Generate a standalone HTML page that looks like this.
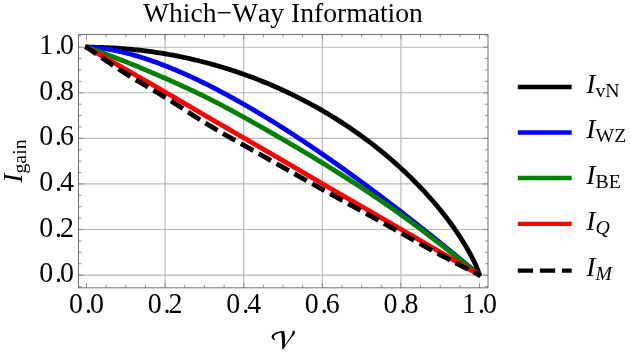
<!DOCTYPE html>
<html><head><meta charset="utf-8"><title>Which-Way Information</title>
<style>
html,body{margin:0;padding:0;background:#fff;}
body{width:630px;height:358px;overflow:hidden;position:relative;font-family:"Liberation Serif",serif;}
svg text{font-family:"Liberation Serif",serif;fill:#000;}
</style></head><body>
<svg width="630" height="358" viewBox="0 0 630 358" style="position:absolute;left:0;top:0;will-change:transform">
<rect x="0" y="0" width="630" height="358" fill="#fff"/>
<path d="M78.5,275.10 H488.0 M165.10,34.5 V287.8 M78.5,229.52 H488.0 M243.70,34.5 V287.8 M78.5,183.94 H488.0 M322.30,34.5 V287.8 M78.5,138.36 H488.0 M400.90,34.5 V287.8 M78.5,92.78 H488.0 M78.5,47.20 H488.0" stroke="#b8b8b8" stroke-width="1.15" fill="none"/>
<clipPath id="c"><rect x="78.5" y="34.5" width="409.5" height="253.3"/></clipPath>
<g clip-path="url(#c)" fill="none" stroke-linejoin="round">
<path d="M85.20,47.20 L86.50,47.20 L88.47,47.20 L90.43,47.22 L92.39,47.24 L94.36,47.27 L96.33,47.30 L98.29,47.35 L100.25,47.40 L102.22,47.46 L104.19,47.53 L106.15,47.61 L108.11,47.70 L110.08,47.79 L112.05,47.90 L114.01,48.01 L115.97,48.13 L117.94,48.25 L119.91,48.39 L121.87,48.53 L123.84,48.69 L125.80,48.85 L127.77,49.02 L129.73,49.19 L131.69,49.38 L133.66,49.57 L135.62,49.78 L137.59,49.99 L139.56,50.21 L141.52,50.43 L143.49,50.67 L145.45,50.91 L147.41,51.17 L149.38,51.43 L151.34,51.70 L153.31,51.97 L155.28,52.26 L157.24,52.56 L159.20,52.86 L161.17,53.17 L163.13,53.49 L165.10,53.82 L167.06,54.16 L169.03,54.50 L171.00,54.86 L172.96,55.22 L174.93,55.59 L176.89,55.97 L178.86,56.36 L180.82,56.76 L182.78,57.17 L184.75,57.58 L186.72,58.01 L188.68,58.44 L190.65,58.88 L192.61,59.33 L194.57,59.79 L196.54,60.26 L198.50,60.74 L200.47,61.23 L202.44,61.72 L204.40,62.23 L206.37,62.74 L208.33,63.26 L210.30,63.79 L212.26,64.33 L214.23,64.88 L216.19,65.44 L218.16,66.01 L220.12,66.59 L222.09,67.18 L224.05,67.77 L226.01,68.38 L227.98,68.99 L229.94,69.62 L231.91,70.25 L233.88,70.89 L235.84,71.55 L237.81,72.21 L239.77,72.88 L241.74,73.56 L243.70,74.25 L245.67,74.96 L247.63,75.67 L249.60,76.39 L251.56,77.12 L253.53,77.86 L255.49,78.61 L257.46,79.37 L259.42,80.14 L261.38,80.92 L263.35,81.72 L265.31,82.52 L267.28,83.33 L269.25,84.15 L271.21,84.99 L273.18,85.83 L275.14,86.68 L277.11,87.55 L279.07,88.43 L281.03,89.31 L283.00,90.21 L284.97,91.12 L286.93,92.04 L288.89,92.97 L290.86,93.91 L292.83,94.86 L294.79,95.83 L296.75,96.80 L298.72,97.79 L300.69,98.79 L302.65,99.80 L304.62,100.82 L306.58,101.86 L308.55,102.90 L310.51,103.96 L312.48,105.03 L314.44,106.12 L316.40,107.21 L318.37,108.32 L320.33,109.44 L322.30,110.57 L324.26,111.72 L326.23,112.88 L328.19,114.05 L330.16,115.23 L332.12,116.43 L334.09,117.65 L336.06,118.87 L338.02,120.11 L339.99,121.36 L341.95,122.63 L343.92,123.91 L345.88,125.21 L347.85,126.52 L349.81,127.85 L351.78,129.19 L353.74,130.54 L355.71,131.91 L357.67,133.30 L359.64,134.70 L361.60,136.12 L363.56,137.55 L365.53,139.00 L367.50,140.47 L369.46,141.95 L371.43,143.45 L373.39,144.97 L375.36,146.51 L377.32,148.06 L379.29,149.63 L381.25,151.22 L383.21,152.83 L385.18,154.46 L387.14,156.11 L389.11,157.77 L391.07,159.46 L393.04,161.17 L395.00,162.90 L396.97,164.65 L398.94,166.42 L400.90,168.22 L402.87,170.03 L404.83,171.87 L406.80,173.74 L408.76,175.63 L410.73,177.54 L412.69,179.48 L414.65,181.45 L416.62,183.44 L418.58,185.47 L420.55,187.52 L422.51,189.60 L424.48,191.71 L426.44,193.85 L428.41,196.02 L430.38,198.23 L432.34,200.48 L434.31,202.76 L436.27,205.07 L438.24,207.43 L440.20,209.83 L442.17,212.27 L444.13,214.76 L446.10,217.30 L448.06,219.88 L450.03,222.52 L451.99,225.22 L453.96,227.98 L455.92,230.80 L457.89,233.69 L459.85,236.66 L461.82,239.72 L463.78,242.87 L465.75,246.12 L467.71,249.49 L469.68,253.01 L471.64,256.69 L473.61,260.58 L475.57,264.75 L477.54,269.35 L479.50,275.10 L479.92,276.33" stroke="#000" stroke-width="4.8"/>
<path d="M85.20,47.18 L86.50,47.20 L88.47,47.23 L90.43,47.30 L92.39,47.40 L94.36,47.54 L96.33,47.70 L98.29,47.90 L100.25,48.12 L102.22,48.36 L104.19,48.63 L106.15,48.92 L108.11,49.24 L110.08,49.57 L112.05,49.93 L114.01,50.31 L115.97,50.70 L117.94,51.12 L119.91,51.55 L121.87,52.00 L123.84,52.47 L125.80,52.96 L127.77,53.46 L129.73,53.98 L131.69,54.52 L133.66,55.07 L135.62,55.63 L137.59,56.21 L139.56,56.81 L141.52,57.42 L143.49,58.04 L145.45,58.68 L147.41,59.33 L149.38,60.00 L151.34,60.67 L153.31,61.36 L155.28,62.07 L157.24,62.78 L159.20,63.51 L161.17,64.25 L163.13,65.00 L165.10,65.77 L167.06,66.54 L169.03,67.33 L171.00,68.13 L172.96,68.93 L174.93,69.75 L176.89,70.58 L178.86,71.42 L180.82,72.27 L182.78,73.13 L184.75,74.01 L186.72,74.89 L188.68,75.78 L190.65,76.68 L192.61,77.59 L194.57,78.51 L196.54,79.43 L198.50,80.37 L200.47,81.32 L202.44,82.27 L204.40,83.24 L206.37,84.21 L208.33,85.19 L210.30,86.18 L212.26,87.18 L214.23,88.19 L216.19,89.20 L218.16,90.23 L220.12,91.26 L222.09,92.30 L224.05,93.34 L226.01,94.40 L227.98,95.46 L229.94,96.53 L231.91,97.61 L233.88,98.69 L235.84,99.79 L237.81,100.89 L239.77,101.99 L241.74,103.11 L243.70,104.23 L245.67,105.35 L247.63,106.49 L249.60,107.63 L251.56,108.78 L253.53,109.93 L255.49,111.09 L257.46,112.26 L259.42,113.44 L261.38,114.62 L263.35,115.80 L265.31,117.00 L267.28,118.20 L269.25,119.40 L271.21,120.61 L273.18,121.83 L275.14,123.05 L277.11,124.28 L279.07,125.52 L281.03,126.76 L283.00,128.01 L284.97,129.26 L286.93,130.52 L288.89,131.78 L290.86,133.05 L292.83,134.33 L294.79,135.61 L296.75,136.90 L298.72,138.19 L300.69,139.48 L302.65,140.79 L304.62,142.09 L306.58,143.40 L308.55,144.72 L310.51,146.04 L312.48,147.37 L314.44,148.70 L316.40,150.04 L318.37,151.38 L320.33,152.73 L322.30,154.08 L324.26,155.44 L326.23,156.80 L328.19,158.17 L330.16,159.54 L332.12,160.92 L334.09,162.30 L336.06,163.68 L338.02,165.07 L339.99,166.46 L341.95,167.86 L343.92,169.27 L345.88,170.67 L347.85,172.08 L349.81,173.50 L351.78,174.92 L353.74,176.34 L355.71,177.77 L357.67,179.21 L359.64,180.64 L361.60,182.08 L363.56,183.53 L365.53,184.98 L367.50,186.43 L369.46,187.89 L371.43,189.35 L373.39,190.82 L375.36,192.28 L377.32,193.76 L379.29,195.23 L381.25,196.72 L383.21,198.20 L385.18,199.69 L387.14,201.18 L389.11,202.68 L391.07,204.18 L393.04,205.68 L395.00,207.19 L396.97,208.70 L398.94,210.21 L400.90,211.73 L402.87,213.25 L404.83,214.77 L406.80,216.30 L408.76,217.83 L410.73,219.37 L412.69,220.91 L414.65,222.45 L416.62,223.99 L418.58,225.54 L420.55,227.09 L422.51,228.65 L424.48,230.21 L426.44,231.77 L428.41,233.33 L430.38,234.90 L432.34,236.47 L434.31,238.05 L436.27,239.63 L438.24,241.21 L440.20,242.79 L442.17,244.38 L444.13,245.97 L446.10,247.56 L448.06,249.16 L450.03,250.76 L451.99,252.36 L453.96,253.97 L455.92,255.57 L457.89,257.19 L459.85,258.80 L461.82,260.42 L463.78,262.04 L465.75,263.66 L467.71,265.29 L469.68,266.91 L471.64,268.55 L473.61,270.18 L475.57,271.82 L477.54,273.46 L479.50,275.10 L480.50,275.93" stroke="#0000ff" stroke-width="4.8"/>
<path d="M85.27,46.78 L86.50,47.20 L88.47,47.87 L90.43,48.55 L92.39,49.23 L94.36,49.92 L96.33,50.62 L98.29,51.32 L100.25,52.03 L102.22,52.75 L104.19,53.47 L106.15,54.20 L108.11,54.93 L110.08,55.67 L112.05,56.42 L114.01,57.17 L115.97,57.92 L117.94,58.69 L119.91,59.45 L121.87,60.23 L123.84,61.00 L125.80,61.79 L127.77,62.57 L129.73,63.36 L131.69,64.16 L133.66,64.96 L135.62,65.77 L137.59,66.58 L139.56,67.39 L141.52,68.21 L143.49,69.03 L145.45,69.86 L147.41,70.69 L149.38,71.52 L151.34,72.36 L153.31,73.20 L155.28,74.04 L157.24,74.89 L159.20,75.74 L161.17,76.59 L163.13,77.45 L165.10,78.31 L167.06,79.17 L169.03,80.03 L171.00,80.90 L172.96,81.77 L174.93,82.65 L176.89,83.53 L178.86,84.41 L180.82,85.30 L182.78,86.19 L184.75,87.09 L186.72,88.00 L188.68,88.91 L190.65,89.82 L192.61,90.74 L194.57,91.67 L196.54,92.61 L198.50,93.55 L200.47,94.50 L202.44,95.46 L204.40,96.43 L206.37,97.40 L208.33,98.38 L210.30,99.37 L212.26,100.37 L214.23,101.38 L216.19,102.39 L218.16,103.41 L220.12,104.43 L222.09,105.46 L224.05,106.50 L226.01,107.55 L227.98,108.60 L229.94,109.65 L231.91,110.71 L233.88,111.78 L235.84,112.85 L237.81,113.92 L239.77,115.00 L241.74,116.08 L243.70,117.17 L245.67,118.25 L247.63,119.35 L249.60,120.44 L251.56,121.54 L253.53,122.64 L255.49,123.75 L257.46,124.86 L259.42,125.97 L261.38,127.08 L263.35,128.20 L265.31,129.32 L267.28,130.44 L269.25,131.57 L271.21,132.69 L273.18,133.82 L275.14,134.95 L277.11,136.09 L279.07,137.22 L281.03,138.36 L283.00,139.50 L284.97,140.64 L286.93,141.78 L288.89,142.93 L290.86,144.08 L292.83,145.23 L294.79,146.38 L296.75,147.54 L298.72,148.70 L300.69,149.86 L302.65,151.02 L304.62,152.19 L306.58,153.36 L308.55,154.53 L310.51,155.71 L312.48,156.89 L314.44,158.08 L316.40,159.27 L318.37,160.46 L320.33,161.66 L322.30,162.86 L324.26,164.07 L326.23,165.28 L328.19,166.49 L330.16,167.71 L332.12,168.93 L334.09,170.16 L336.06,171.39 L338.02,172.63 L339.99,173.87 L341.95,175.12 L343.92,176.37 L345.88,177.62 L347.85,178.88 L349.81,180.14 L351.78,181.41 L353.74,182.68 L355.71,183.96 L357.67,185.24 L359.64,186.53 L361.60,187.81 L363.56,189.11 L365.53,190.41 L367.50,191.71 L369.46,193.02 L371.43,194.33 L373.39,195.65 L375.36,196.97 L377.32,198.30 L379.29,199.63 L381.25,200.97 L383.21,202.31 L385.18,203.67 L387.14,205.02 L389.11,206.39 L391.07,207.76 L393.04,209.13 L395.00,210.52 L396.97,211.91 L398.94,213.30 L400.90,214.71 L402.87,216.12 L404.83,217.54 L406.80,218.96 L408.76,220.39 L410.73,221.83 L412.69,223.28 L414.65,224.73 L416.62,226.19 L418.58,227.65 L420.55,229.12 L422.51,230.60 L424.48,232.08 L426.44,233.57 L428.41,235.06 L430.38,236.55 L432.34,238.06 L434.31,239.56 L436.27,241.07 L438.24,242.59 L440.20,244.11 L442.17,245.63 L444.13,247.16 L446.10,248.69 L448.06,250.22 L450.03,251.76 L451.99,253.30 L453.96,254.84 L455.92,256.39 L457.89,257.94 L459.85,259.49 L461.82,261.04 L463.78,262.60 L465.75,264.15 L467.71,265.71 L469.68,267.27 L471.64,268.84 L473.61,270.40 L475.57,271.97 L477.54,273.53 L479.50,275.10 L480.52,275.91" stroke="#008000" stroke-width="4.8"/>
<path d="M85.37,46.56 L86.50,47.20 L88.47,48.32 L90.43,49.44 L92.39,50.55 L94.36,51.67 L96.33,52.79 L98.29,53.90 L100.25,55.02 L102.22,56.14 L104.19,57.25 L106.15,58.37 L108.11,59.48 L110.08,60.60 L112.05,61.71 L114.01,62.83 L115.97,63.95 L117.94,65.06 L119.91,66.18 L121.87,67.30 L123.84,68.42 L125.80,69.53 L127.77,70.65 L129.73,71.77 L131.69,72.89 L133.66,74.01 L135.62,75.13 L137.59,76.26 L139.56,77.38 L141.52,78.50 L143.49,79.63 L145.45,80.75 L147.41,81.88 L149.38,83.01 L151.34,84.14 L153.31,85.27 L155.28,86.41 L157.24,87.54 L159.20,88.68 L161.17,89.81 L163.13,90.95 L165.10,92.10 L167.06,93.24 L169.03,94.39 L171.00,95.53 L172.96,96.68 L174.93,97.83 L176.89,98.98 L178.86,100.13 L180.82,101.28 L182.78,102.44 L184.75,103.59 L186.72,104.74 L188.68,105.90 L190.65,107.05 L192.61,108.21 L194.57,109.36 L196.54,110.51 L198.50,111.66 L200.47,112.82 L202.44,113.97 L204.40,115.11 L206.37,116.26 L208.33,117.41 L210.30,118.55 L212.26,119.70 L214.23,120.84 L216.19,121.98 L218.16,123.12 L220.12,124.26 L222.09,125.40 L224.05,126.54 L226.01,127.68 L227.98,128.82 L229.94,129.95 L231.91,131.09 L233.88,132.23 L235.84,133.36 L237.81,134.50 L239.77,135.63 L241.74,136.77 L243.70,137.90 L245.67,139.04 L247.63,140.18 L249.60,141.31 L251.56,142.45 L253.53,143.58 L255.49,144.72 L257.46,145.86 L259.42,146.99 L261.38,148.13 L263.35,149.27 L265.31,150.41 L267.28,151.55 L269.25,152.69 L271.21,153.83 L273.18,154.97 L275.14,156.11 L277.11,157.26 L279.07,158.40 L281.03,159.55 L283.00,160.69 L284.97,161.84 L286.93,162.99 L288.89,164.14 L290.86,165.29 L292.83,166.44 L294.79,167.59 L296.75,168.75 L298.72,169.90 L300.69,171.05 L302.65,172.20 L304.62,173.36 L306.58,174.51 L308.55,175.66 L310.51,176.81 L312.48,177.97 L314.44,179.12 L316.40,180.27 L318.37,181.42 L320.33,182.56 L322.30,183.71 L324.26,184.86 L326.23,186.00 L328.19,187.15 L330.16,188.29 L332.12,189.43 L334.09,190.57 L336.06,191.71 L338.02,192.85 L339.99,193.99 L341.95,195.13 L343.92,196.27 L345.88,197.41 L347.85,198.54 L349.81,199.68 L351.78,200.82 L353.74,201.95 L355.71,203.09 L357.67,204.23 L359.64,205.37 L361.60,206.50 L363.56,207.64 L365.53,208.78 L367.50,209.91 L369.46,211.05 L371.43,212.19 L373.39,213.33 L375.36,214.47 L377.32,215.61 L379.29,216.75 L381.25,217.89 L383.21,219.03 L385.18,220.17 L387.14,221.31 L389.11,222.45 L391.07,223.59 L393.04,224.73 L395.00,225.87 L396.97,227.01 L398.94,228.15 L400.90,229.29 L402.87,230.43 L404.83,231.58 L406.80,232.72 L408.76,233.86 L410.73,235.00 L412.69,236.15 L414.65,237.29 L416.62,238.43 L418.58,239.58 L420.55,240.72 L422.51,241.87 L424.48,243.01 L426.44,244.16 L428.41,245.30 L430.38,246.45 L432.34,247.60 L434.31,248.75 L436.27,249.90 L438.24,251.05 L440.20,252.20 L442.17,253.35 L444.13,254.50 L446.10,255.65 L448.06,256.80 L450.03,257.95 L451.99,259.10 L453.96,260.26 L455.92,261.41 L457.89,262.56 L459.85,263.71 L461.82,264.85 L463.78,266.00 L465.75,267.14 L467.71,268.29 L469.68,269.43 L471.64,270.57 L473.61,271.70 L475.57,272.84 L477.54,273.97 L479.50,275.10 L480.63,275.75" stroke="#ff0000" stroke-width="4.8"/>
<path d="M85.43,46.47 L86.50,47.20 L88.47,48.54 L90.43,49.88 L92.39,51.22 L94.36,52.57 L96.33,53.92 L98.29,55.27 L100.25,56.61 L102.22,57.96 L104.19,59.31 L106.15,60.65 L108.11,61.98 L110.08,63.31 L112.05,64.64 L114.01,65.95 L115.97,67.26 L117.94,68.56 L119.91,69.85 L121.87,71.12 L123.84,72.39 L125.80,73.64 L127.77,74.87 L129.73,76.10 L131.69,77.31 L133.66,78.51 L135.62,79.70 L137.59,80.88 L139.56,82.06 L141.52,83.23 L143.49,84.39 L145.45,85.56 L147.41,86.72 L149.38,87.88 L151.34,89.05 L153.31,90.21 L155.28,91.38 L157.24,92.56 L159.20,93.74 L161.17,94.93 L163.13,96.13 L165.10,97.34 L167.06,98.56 L169.03,99.79 L171.00,101.03 L172.96,102.28 L174.93,103.53 L176.89,104.79 L178.86,106.06 L180.82,107.33 L182.78,108.60 L184.75,109.87 L186.72,111.14 L188.68,112.41 L190.65,113.68 L192.61,114.95 L194.57,116.21 L196.54,117.47 L198.50,118.71 L200.47,119.95 L202.44,121.19 L204.40,122.41 L206.37,123.62 L208.33,124.82 L210.30,126.00 L212.26,127.18 L214.23,128.35 L216.19,129.51 L218.16,130.67 L220.12,131.81 L222.09,132.95 L224.05,134.08 L226.01,135.21 L227.98,136.33 L229.94,137.45 L231.91,138.56 L233.88,139.67 L235.84,140.78 L237.81,141.89 L239.77,142.99 L241.74,144.09 L243.70,145.20 L245.67,146.30 L247.63,147.40 L249.60,148.51 L251.56,149.61 L253.53,150.71 L255.49,151.82 L257.46,152.92 L259.42,154.02 L261.38,155.13 L263.35,156.23 L265.31,157.34 L267.28,158.44 L269.25,159.55 L271.21,160.66 L273.18,161.76 L275.14,162.87 L277.11,163.98 L279.07,165.09 L281.03,166.19 L283.00,167.30 L284.97,168.41 L286.93,169.52 L288.89,170.63 L290.86,171.74 L292.83,172.85 L294.79,173.96 L296.75,175.07 L298.72,176.18 L300.69,177.29 L302.65,178.40 L304.62,179.50 L306.58,180.61 L308.55,181.71 L310.51,182.82 L312.48,183.92 L314.44,185.02 L316.40,186.12 L318.37,187.22 L320.33,188.32 L322.30,189.41 L324.26,190.50 L326.23,191.59 L328.19,192.68 L330.16,193.77 L332.12,194.85 L334.09,195.94 L336.06,197.02 L338.02,198.10 L339.99,199.18 L341.95,200.26 L343.92,201.34 L345.88,202.42 L347.85,203.50 L349.81,204.58 L351.78,205.66 L353.74,206.74 L355.71,207.82 L357.67,208.90 L359.64,209.98 L361.60,211.06 L363.56,212.14 L365.53,213.23 L367.50,214.31 L369.46,215.40 L371.43,216.48 L373.39,217.57 L375.36,218.66 L377.32,219.75 L379.29,220.84 L381.25,221.94 L383.21,223.03 L385.18,224.13 L387.14,225.22 L389.11,226.32 L391.07,227.42 L393.04,228.52 L395.00,229.62 L396.97,230.73 L398.94,231.83 L400.90,232.94 L402.87,234.05 L404.83,235.16 L406.80,236.26 L408.76,237.37 L410.73,238.48 L412.69,239.59 L414.65,240.70 L416.62,241.81 L418.58,242.91 L420.55,244.01 L422.51,245.11 L424.48,246.21 L426.44,247.30 L428.41,248.39 L430.38,249.48 L432.34,250.56 L434.31,251.63 L436.27,252.70 L438.24,253.76 L440.20,254.82 L442.17,255.87 L444.13,256.91 L446.10,257.95 L448.06,258.98 L450.03,260.00 L451.99,261.02 L453.96,262.04 L455.92,263.05 L457.89,264.06 L459.85,265.07 L461.82,266.08 L463.78,267.08 L465.75,268.08 L467.71,269.08 L469.68,270.09 L471.64,271.09 L473.61,272.09 L475.57,273.09 L477.54,274.09 L479.50,275.10 L480.66,275.69" stroke="#000" stroke-width="4.8" stroke-dasharray="14.2 6.28" stroke-dashoffset="1.0"/>
</g>
<path d="M86.50,287.8 v-4.9 M86.50,34.5 v4.9 M78.5,275.10 h4.9 M488.0,275.10 h-4.9 M106.15,287.8 v-3.0 M106.15,34.5 v3.0 M78.5,263.71 h3.0 M488.0,263.71 h-3.0 M125.80,287.8 v-3.0 M125.80,34.5 v3.0 M78.5,252.31 h3.0 M488.0,252.31 h-3.0 M145.45,287.8 v-3.0 M145.45,34.5 v3.0 M78.5,240.92 h3.0 M488.0,240.92 h-3.0 M165.10,287.8 v-4.9 M165.10,34.5 v4.9 M78.5,229.52 h4.9 M488.0,229.52 h-4.9 M184.75,287.8 v-3.0 M184.75,34.5 v3.0 M78.5,218.12 h3.0 M488.0,218.12 h-3.0 M204.40,287.8 v-3.0 M204.40,34.5 v3.0 M78.5,206.73 h3.0 M488.0,206.73 h-3.0 M224.05,287.8 v-3.0 M224.05,34.5 v3.0 M78.5,195.34 h3.0 M488.0,195.34 h-3.0 M243.70,287.8 v-4.9 M243.70,34.5 v4.9 M78.5,183.94 h4.9 M488.0,183.94 h-4.9 M263.35,287.8 v-3.0 M263.35,34.5 v3.0 M78.5,172.55 h3.0 M488.0,172.55 h-3.0 M283.00,287.8 v-3.0 M283.00,34.5 v3.0 M78.5,161.15 h3.0 M488.0,161.15 h-3.0 M302.65,287.8 v-3.0 M302.65,34.5 v3.0 M78.5,149.75 h3.0 M488.0,149.75 h-3.0 M322.30,287.8 v-4.9 M322.30,34.5 v4.9 M78.5,138.36 h4.9 M488.0,138.36 h-4.9 M341.95,287.8 v-3.0 M341.95,34.5 v3.0 M78.5,126.97 h3.0 M488.0,126.97 h-3.0 M361.60,287.8 v-3.0 M361.60,34.5 v3.0 M78.5,115.57 h3.0 M488.0,115.57 h-3.0 M381.25,287.8 v-3.0 M381.25,34.5 v3.0 M78.5,104.18 h3.0 M488.0,104.18 h-3.0 M400.90,287.8 v-4.9 M400.90,34.5 v4.9 M78.5,92.78 h4.9 M488.0,92.78 h-4.9 M420.55,287.8 v-3.0 M420.55,34.5 v3.0 M78.5,81.38 h3.0 M488.0,81.38 h-3.0 M440.20,287.8 v-3.0 M440.20,34.5 v3.0 M78.5,69.99 h3.0 M488.0,69.99 h-3.0 M459.85,287.8 v-3.0 M459.85,34.5 v3.0 M78.5,58.59 h3.0 M488.0,58.59 h-3.0 M479.50,287.8 v-4.9 M479.50,34.5 v4.9 M78.5,47.20 h4.9 M488.0,47.20 h-4.9 M78.5,286.50 h3.0 M488.0,286.50 h-3.0 M78.5,35.80 h3.0 M488.0,35.80 h-3.0" stroke="#7a7a7a" stroke-width="0.8" fill="none"/>
<rect x="78.5" y="34.5" width="409.5" height="253.3" fill="none" stroke="#707070" stroke-width="1"/>
<text transform="translate(86.50,313.3) scale(1,1.025)" font-size="27.9" text-anchor="middle">0<tspan dx="2.0">.</tspan><tspan dx="-2.0">0</tspan></text>
<text transform="translate(74.0,282.20) scale(1,1.025)" font-size="27.9" text-anchor="end">0<tspan dx="2.0">.</tspan><tspan dx="-2.0">0</tspan></text>
<text transform="translate(165.10,313.3) scale(1,1.025)" font-size="27.9" text-anchor="middle">0<tspan dx="2.0">.</tspan><tspan dx="-2.0">2</tspan></text>
<text transform="translate(74.0,236.62) scale(1,1.025)" font-size="27.9" text-anchor="end">0<tspan dx="2.0">.</tspan><tspan dx="-2.0">2</tspan></text>
<text transform="translate(243.70,313.3) scale(1,1.025)" font-size="27.9" text-anchor="middle">0<tspan dx="2.0">.</tspan><tspan dx="-2.0">4</tspan></text>
<text transform="translate(74.0,191.04) scale(1,1.025)" font-size="27.9" text-anchor="end">0<tspan dx="2.0">.</tspan><tspan dx="-2.0">4</tspan></text>
<text transform="translate(322.30,313.3) scale(1,1.025)" font-size="27.9" text-anchor="middle">0<tspan dx="2.0">.</tspan><tspan dx="-2.0">6</tspan></text>
<text transform="translate(74.0,145.46) scale(1,1.025)" font-size="27.9" text-anchor="end">0<tspan dx="2.0">.</tspan><tspan dx="-2.0">6</tspan></text>
<text transform="translate(400.90,313.3) scale(1,1.025)" font-size="27.9" text-anchor="middle">0<tspan dx="2.0">.</tspan><tspan dx="-2.0">8</tspan></text>
<text transform="translate(74.0,99.88) scale(1,1.025)" font-size="27.9" text-anchor="end">0<tspan dx="2.0">.</tspan><tspan dx="-2.0">8</tspan></text>
<text transform="translate(479.50,313.3) scale(1,1.025)" font-size="27.9" text-anchor="middle">1<tspan dx="2.0">.</tspan><tspan dx="-2.0">0</tspan></text>
<text transform="translate(74.0,54.30) scale(1,1.025)" font-size="27.9" text-anchor="end">1<tspan dx="2.0">.</tspan><tspan dx="-2.0">0</tspan></text>
<text x="282.9" y="22.4" font-size="27.6" text-anchor="middle" style="font-kerning:none">Which−Way Information</text>
<g transform="translate(22.0,182.7) rotate(-90)"><text x="0" y="0" font-size="27.5"><tspan font-style="italic">I</tspan><tspan font-size="19.8" dy="4" dx="0">gain</tspan></text></g>
<g transform="translate(266,324) scale(0.08375)"><path d="M104,193 C84,186 66,173 67,153 C68,125 112,97 172,87 L217,83 C228,135 230,200 224,256 C250,215 285,165 305,130 C312,118 316,108 316,98 C316,86 326,80 334,82 C344,84 348,94 344,106 C340,120 326,134 313,150 C283,192 238,252 205,301 L194,304 C194,240 190,160 182,103 C150,104 106,121 94,150 C90,163 98,176 110,185 Z" fill="#000"/></g>
<path d="M517.8,87 H571.7" stroke="#000" stroke-width="4.4"/>
<text x="586.3" y="92.6" font-size="27.5"><tspan font-style="italic">I</tspan><tspan font-size="19.8" dy="4" dx="0">vN</tspan></text>
<path d="M517.8,132.5 H571.7" stroke="#0000ff" stroke-width="4.4"/>
<text x="586.3" y="138.1" font-size="27.5"><tspan font-style="italic">I</tspan><tspan font-size="19.8" dy="4" dx="0">WZ</tspan></text>
<path d="M517.8,178 H571.7" stroke="#008000" stroke-width="4.4"/>
<text x="586.3" y="183.6" font-size="27.5"><tspan font-style="italic">I</tspan><tspan font-size="19.8" dy="4" dx="0">BE</tspan></text>
<path d="M517.8,223.9 H571.7" stroke="#ff0000" stroke-width="4.4"/>
<text x="586.3" y="229.5" font-size="27.5"><tspan font-style="italic">I</tspan><tspan font-size="19.8" dy="4" dx="0"><tspan font-style="italic">Q</tspan></tspan></text>
<path d="M517.8,270.6 H571.7" stroke="#000" stroke-width="4.4" stroke-dasharray="15.25 6.85"/>
<text x="586.3" y="276.20000000000005" font-size="27.5"><tspan font-style="italic">I</tspan><tspan font-size="19.8" dy="4" dx="0"><tspan font-style="italic">M</tspan></tspan></text>
</svg>
</body></html>
